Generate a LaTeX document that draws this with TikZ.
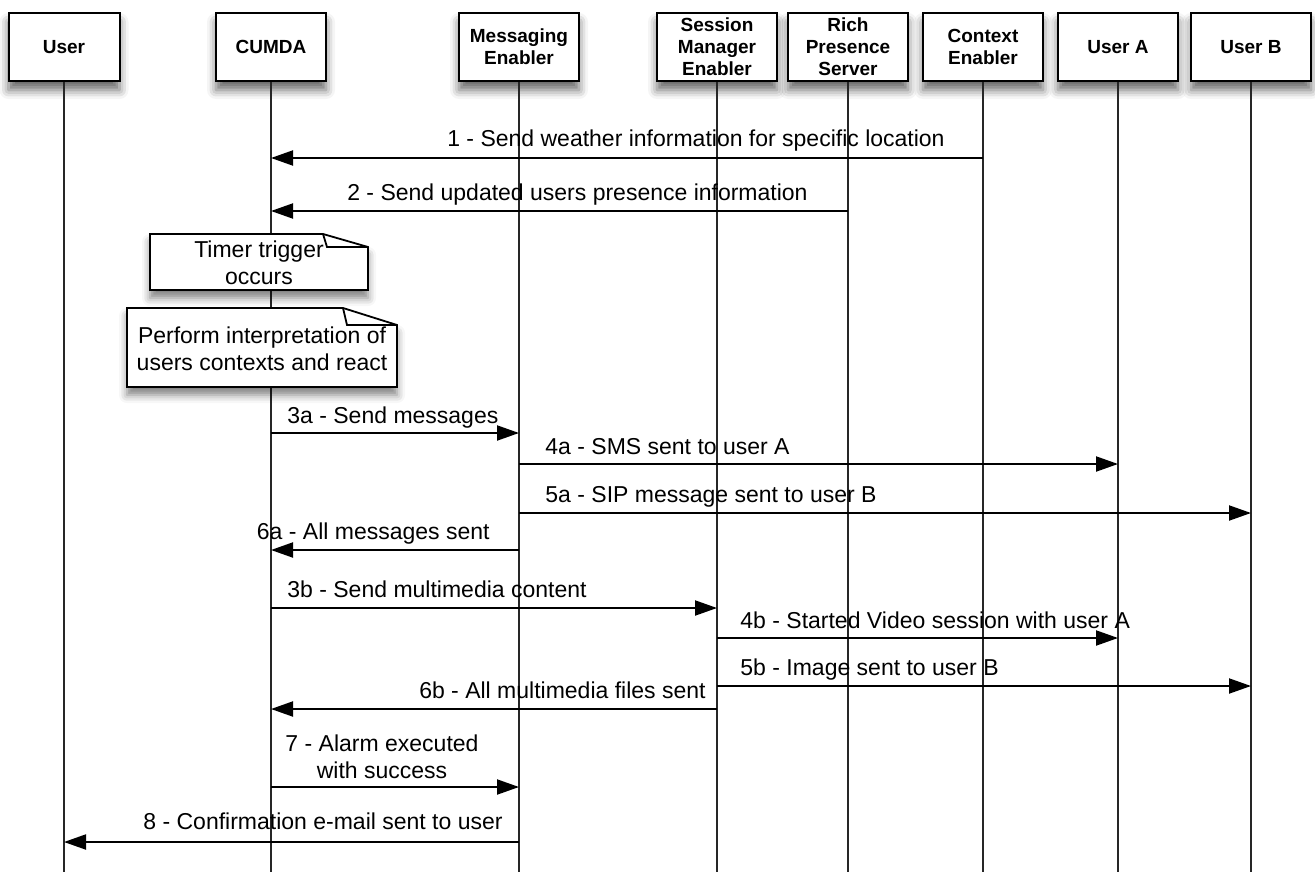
\documentclass[tikz,border=0pt]{standalone}
\usepackage{fontspec}
\setmainfont{Liberation Sans}
\usetikzlibrary{arrows.meta,shadows.blur}
\tikzstyle{actor}=[draw, line width=1pt, fill=white, minimum width=60pt, minimum height=34pt, inner sep=0pt, align=center, font=\bfseries\fontsize{9.5}{11}\selectfont, blur shadow={shadow xshift=0pt, shadow yshift=-4.5pt, shadow blur radius=4.5pt, shadow opacity=60}]
\tikzstyle{notebox}=[draw, line width=0.9pt, fill=white, blur shadow={shadow xshift=0pt, shadow yshift=-4pt, shadow blur radius=4pt, shadow opacity=50}]
\tikzstyle{notetxt}=[inner sep=0pt, align=center, font=\fontsize{11.5}{13.5}\selectfont]
\tikzstyle{life}=[line width=0.8pt, black!85]
\tikzstyle{msg}=[line width=1pt, -{Triangle[length=11pt,width=7.5pt,fill=black]}]
\tikzstyle{lbl}=[inner sep=0pt, font=\fontsize{11.5}{13.5}\selectfont]

\begin{document}
\begin{tikzpicture}[x=0.5pt, y=-0.5pt]
\useasboundingbox (0,0) rectangle (1315,872);
% participants
\node[actor, minimum width=55.5pt] (user) at (64,47) {User};
\node[actor, minimum width=55pt] (cumda) at (271,47) {CUMDA};
\node[actor] (msgen) at (519,47) {Messaging\\Enabler};
\node[actor] (sme) at (717,47) {Session\\Manager\\Enabler};
\node[actor] (rps) at (848,47) {Rich\\Presence\\Server};
\node[actor] (ctxen) at (983,47) {Context\\Enabler};
\node[actor] (usera) at (1118,47) {User A};
\node[actor] (userb) at (1251,47) {User B};
% lifelines
\draw[life] (user) -- (user |- 0,872);
\draw[life] (cumda) -- (cumda |- 0,872);
\draw[life] (msgen) -- (msgen |- 0,872);
\draw[life] (sme) -- (sme |- 0,872);
\draw[life] (rps) -- (rps |- 0,872);
\draw[life] (ctxen) -- (ctxen |- 0,872);
\draw[life] (usera) -- (usera |- 0,872);
\draw[life] (userb) -- (userb |- 0,872);
% notes on CUMDA
\draw[notebox] (150,234) -- (323,234) -- (368,247) -- (368,290) -- (150,290) -- cycle;
\draw[line width=0.9pt] (323,234) -- (327,247) -- (368,247);
\node[notetxt] (timer) at (259,263) {Timer trigger\\occurs};
\draw[notebox] (127,308) -- (343,308) -- (397,325) -- (397,387) -- (127,387) -- cycle;
\draw[line width=0.9pt] (343,308) -- (347,325) -- (397,325);
\node[notetxt] (interp) at (262,349) {Perform interpretation of\\users contexts and react};
% messages
\draw[msg] (ctxen |- 0,158) -- (cumda |- 0,158);
\node[lbl, anchor=base east] (l1) at (945,147) {1 - Send weather information for specific location};
\draw[msg] (rps |- 0,211) -- (cumda |- 0,211);
\node[lbl, anchor=base east] (l2) at (808,200) {2 - Send updated users presence information};
\draw[msg] (cumda |- 0,433) -- (msgen |- 0,433);
\node[lbl, anchor=base west] (l3a) at (287,423) {3a - Send messages};
\draw[msg] (msgen |- 0,464) -- (usera |- 0,464);
\node[lbl, anchor=base west] (l4a) at (545,454) {4a - SMS sent to user A};
\draw[msg] (msgen |- 0,513) -- (userb |- 0,513);
\node[lbl, anchor=base west] (l5a) at (545,502) {5a - SIP message sent to user B};
\draw[msg] (msgen |- 0,550) -- (cumda |- 0,550);
\node[lbl, anchor=base east] (l6a) at (490,539) {6a - All messages sent};
\draw[msg] (cumda |- 0,608) -- (sme |- 0,608);
\node[lbl, anchor=base west] (l3b) at (287,597) {3b - Send multimedia content};
\draw[msg] (sme |- 0,638) -- (usera |- 0,638);
\node[lbl, anchor=base west] (l4b) at (740,628) {4b - Started Video session with user A};
\draw[msg] (sme |- 0,686) -- (userb |- 0,686);
\node[lbl, anchor=base west] (l5b) at (740,675) {5b - Image sent to user B};
\draw[msg] (sme |- 0,709) -- (cumda |- 0,709);
\node[lbl, anchor=base east] (l6b) at (706,698) {6b - All multimedia files sent};
\draw[msg] (cumda |- 0,787) -- (msgen |- 0,787);
\node[lbl, align=center, anchor=south] (l7) at (382,779) {7 - Alarm executed\\with success};
\draw[msg] (msgen |- 0,842) -- (user |- 0,842);
\node[lbl, anchor=base east] (l8) at (503,829) {8 - Confirmation e-mail sent to user};
\end{tikzpicture}
\end{document}
